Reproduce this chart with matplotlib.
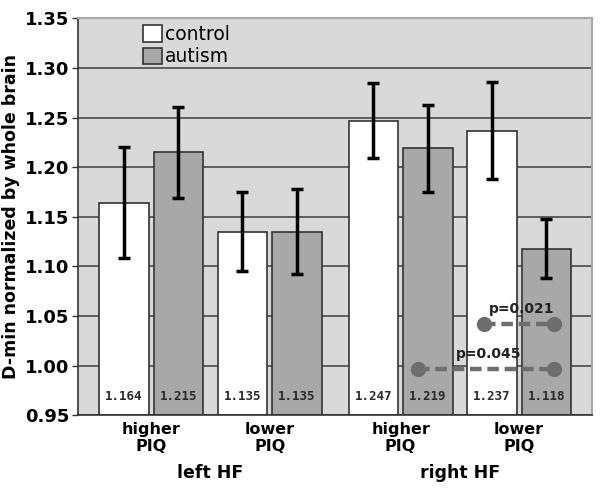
import matplotlib
matplotlib.use("Agg")
import matplotlib.pyplot as plt
import numpy as np

groups = ["higher\nPIQ", "lower\nPIQ", "higher\nPIQ", "lower\nPIQ"]
sides = ["left HF", "right HF"]
control = [1.164, 1.135, 1.247, 1.237]
autism = [1.215, 1.135, 1.219, 1.118]
control_err = [0.056, 0.040, 0.038, 0.049]
autism_err = [0.046, 0.043, 0.044, 0.030]
p_labels = ["p=0.021", "p=0.045"]
p_levels = [1.042, 0.996]
yticks = [0.95, 1.00, 1.05, 1.10, 1.15, 1.20, 1.25, 1.30, 1.35]

pos = np.array([0.0, 1.0, 2.105, 3.105])
off = 0.23
w = 0.418

fig = plt.figure(figsize=(6.01, 4.93), dpi=100)
ax = fig.add_axes([0.13, 0.158, 0.855, 0.8045])
ax.set_facecolor("#d9d9d9")
ax.set_xlim(-0.616, 3.72)
ax.set_ylim(0.95, 1.35)
ax.set_yticks(yticks)
ax.set_yticklabels([f"{v:.2f}" for v in yticks], fontsize=13, fontweight="bold")
ax.yaxis.grid(True, color="#4a4a4a", linewidth=1.2, zorder=0)
ax.set_axisbelow(True)
ax.set_xticks([])
ax.tick_params(axis="y", length=4, width=1, color="#333333", pad=2)
for s in ["top", "right"]:
    ax.spines[s].set_color("#a8a8a8")
    ax.spines[s].set_linewidth(1.5)
for s in ["left", "bottom"]:
    ax.spines[s].set_color("#333333")
    ax.spines[s].set_linewidth(1.2)

b1 = ax.bar(pos - off, np.array(control) - 0.95, bottom=0.95, width=w, color="white",
            edgecolor="#333333", linewidth=1.2, label="control", zorder=2)
b2 = ax.bar(pos + off, np.array(autism) - 0.95, bottom=0.95, width=w, color="#a8a8a8",
            edgecolor="#333333", linewidth=1.2, label="autism", zorder=2)
ax.errorbar(pos - off, control, yerr=control_err, fmt="none", ecolor="black",
            elinewidth=2.5, capsize=4, capthick=2.5, zorder=3)
ax.errorbar(pos + off, autism, yerr=autism_err, fmt="none", ecolor="black",
            elinewidth=2.5, capsize=4, capthick=2.5, zorder=3)

for x, v in zip(pos - off, control):
    ax.text(x, 0.9685, f"{v:.3f}", ha="center", va="center", fontsize=9,
            fontfamily="DejaVu Sans Mono", fontweight="bold", color="#2a2a2a", zorder=4)
for x, v in zip(pos + off, autism):
    ax.text(x, 0.9685, f"{v:.3f}", ha="center", va="center", fontsize=9,
            fontfamily="DejaVu Sans Mono", fontweight="bold", color="#2a2a2a", zorder=4)

# significance markers
pairs = [(pos[3] - off - 0.065, pos[3] + off + 0.065), (pos[2] + off - 0.085, pos[3] + off + 0.065)]
for (xa, xb), lvl, lab in zip(pairs, p_levels, p_labels):
    ax.plot([xa, xb], [lvl, lvl], linestyle=(0, (2.6, 1.3)), color="#6e6e6e",
            linewidth=3.2, zorder=5)
    ax.plot([xa, xb], [lvl, lvl], "o", color="#6e6e6e", markersize=10, zorder=6)
    ax.text((xa + xb) / 2 + 0.02, lvl + 0.0155, lab, ha="center", va="center",
            fontsize=10, fontweight="bold", color="#222222", zorder=7)

ax.set_ylabel("D-min normalized by whole brain", fontsize=12.5, fontweight="bold", labelpad=4)

for x, g in zip(pos, groups):
    ax.text(x, -0.017, g, transform=ax.get_xaxis_transform(), ha="center", va="top",
            fontsize=11.5, fontweight="bold", linespacing=1.2)
ax.text((pos[0] + pos[1]) / 2, -0.146, sides[0], transform=ax.get_xaxis_transform(),
        ha="center", va="center", fontsize=12.5, fontweight="bold")
ax.text((pos[2] + pos[3]) / 2, -0.146, sides[1], transform=ax.get_xaxis_transform(),
        ha="center", va="center", fontsize=12.5, fontweight="bold")

ax.legend(handles=[b1, b2], loc="upper left", bbox_to_anchor=(0.104, 1.012), frameon=False,
          fontsize=13.5, handlelength=1.0, handleheight=1.0, handletextpad=0.2,
          labelspacing=0.18, borderaxespad=0.2)

fig.savefig("out.png", dpi=100)
